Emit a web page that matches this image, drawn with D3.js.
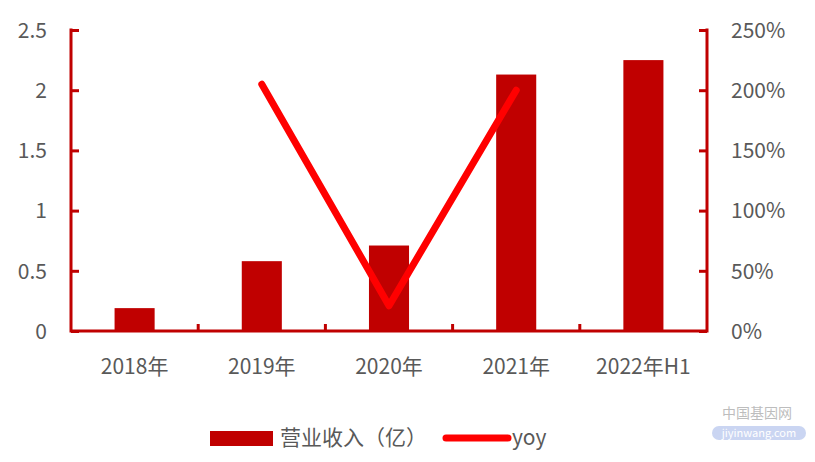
<!DOCTYPE html>
<html><head><meta charset="utf-8">
<script src="https://cdn.jsdelivr.net/npm/d3@7/dist/d3.min.js"></script>
<style>body{margin:0;background:#fff}svg{display:block}</style>
</head><body>
<svg id="c" width="815" height="462"></svg>
<script>
const categories = ["2018年","2019年","2020年","2021年","2022年H1"];
const revenue = [0.19, 0.58, 0.71, 2.13, 2.25];
const yoy = [null, 205, 21, 200, null];
const leftTicks = [0, 0.5, 1, 1.5, 2, 2.5];
const rightTicks = [0, 50, 100, 150, 200, 250];
const seriesNames = ["营业收入（亿）", "yoy"];

const svg = d3.select("#c");
const font = "'Noto Sans CJK SC','Microsoft YaHei',sans-serif";
const fs = "21px";
const textColor = "#595959";
const axisColor = "#C00000";
const m = {l:71, r:707, t:30, b:331};

const x = d3.scaleBand().domain(categories).range([m.l, m.r]).paddingInner(0).paddingOuter(0);
const yL = d3.scaleLinear().domain([0, 2.5]).range([m.b, m.t]);
const yR = d3.scaleLinear().domain([0, 250]).range([m.b, m.t]);

// bars
const bw = x.bandwidth() * 0.315;
svg.append("g").selectAll("rect").data(revenue).join("rect")
  .attr("x", (d,i) => x(categories[i]) + x.bandwidth()/2 - bw/2)
  .attr("y", d => yL(d))
  .attr("width", bw)
  .attr("height", d => yL(0) - yL(d))
  .attr("fill", axisColor);

// left axis
const gl = svg.append("g").attr("transform", `translate(${m.l},0)`)
  .call(d3.axisRight(yL).tickValues(leftTicks).tickSize(8).tickFormat(d3.format("")));
gl.select(".domain").remove();
gl.append("line").attr("x1",0).attr("x2",0).attr("y1",m.t-1.5).attr("y2",m.b+1.5).attr("stroke",axisColor).attr("stroke-width",3);
gl.selectAll(".tick line").attr("stroke", axisColor).attr("stroke-width", 3);
gl.selectAll(".tick text").attr("x", -24).attr("text-anchor","end").attr("fill", textColor)
  .style("font-family", font).style("font-size",fs).attr("dy","0.35em");

// right axis
const gr = svg.append("g").attr("transform", `translate(${m.r},0)`)
  .call(d3.axisLeft(yR).tickValues(rightTicks).tickSize(8).tickFormat(d => d + "%"));
gr.select(".domain").remove();
gr.append("line").attr("x1",0).attr("x2",0).attr("y1",m.t-1.5).attr("y2",m.b+1.5).attr("stroke",axisColor).attr("stroke-width",3);
gr.selectAll(".tick line").attr("stroke", axisColor).attr("stroke-width", 3);
gr.selectAll(".tick text").attr("x", 24).attr("text-anchor","start").attr("fill", textColor)
  .style("font-family", font).style("font-size",fs).attr("dy","0.35em");

// x axis
const gx = svg.append("g").attr("transform", `translate(0,${m.b})`)
  .call(d3.axisBottom(x).tickSize(0).tickPadding(28));
gx.select(".domain").remove();
gx.append("line").attr("x1",m.l).attr("x2",m.r).attr("y1",0).attr("y2",0).attr("stroke",axisColor).attr("stroke-width",3);
gx.selectAll(".tick text").attr("fill", textColor).style("font-family", font).style("font-size",fs);
// inner category ticks
const bounds = categories.slice(1).map(c => x(c));
gx.selectAll(".ctick").data(bounds).join("line")
  .attr("x1", d => d).attr("x2", d => d).attr("y1", 0).attr("y2", -7)
  .attr("stroke", axisColor).attr("stroke-width", 3);

// yoy line
const line = d3.line().defined(d => d.v != null)
  .x(d => x(d.c) + x.bandwidth()/2).y(d => yR(d.v));
svg.append("path")
  .datum(categories.map((c,i) => ({c, v: yoy[i]})))
  .attr("d", line).attr("fill","none").attr("stroke","#FF0000")
  .attr("stroke-width", 7).attr("stroke-linecap","round").attr("stroke-linejoin","round");

// legend
const lg = svg.append("g");
lg.append("rect").attr("x",210).attr("y",431).attr("width",63).attr("height",15).attr("fill",axisColor);
lg.append("text").attr("x",280).attr("y",438).attr("dy","0.35em").text(seriesNames[0])
  .attr("fill",textColor).style("font-family",font).style("font-size",fs);
lg.append("line").attr("x1",446).attr("x2",508).attr("y1",438).attr("y2",438)
  .attr("stroke","#FF0000").attr("stroke-width",7).attr("stroke-linecap","round");
lg.append("text").attr("x",512).attr("y",438).attr("dy","0.35em").text(seriesNames[1])
  .attr("fill",textColor).style("font-family",font).style("font-size",fs);

// watermark
const wm = svg.append("g").attr("opacity",0.55);
wm.append("text").attr("x",722).attr("y",418).text("中国基因网").attr("fill","#888")
  .style("font-family",font).style("font-size","14px");
wm.append("rect").attr("x",712).attr("y",426).attr("width",94).attr("height",14).attr("rx",7).attr("fill","#9fb4e8");
wm.append("text").attr("x",759).attr("y",437).attr("text-anchor","middle").text("jiyinwang.com").attr("fill","#fff")
  .style("font-family",font).style("font-size","11px");
</script>
</body></html>
